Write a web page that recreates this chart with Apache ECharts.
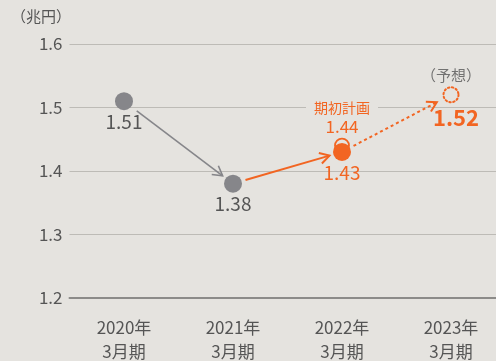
<!DOCTYPE html>
<html>
<head>
<meta charset="utf-8">
<script src="https://cdn.jsdelivr.net/npm/echarts@6/dist/echarts.min.js"></script>
<style>
  html, body { margin: 0; padding: 0; background: #e5e3df; }
  #chart { width: 496px; height: 361px; }
</style>
</head>
<body>
<div id="chart"></div>
<script>
// 売上高の推移（兆円）
const categories = ['2020年\n3月期', '2021年\n3月期', '2022年\n3月期', '2023年\n3月期'];
const actualPast = [1.51, 1.38];        // 2020年・2021年 実績
const actual2022 = 1.43;                // 2022年 実績
const plan2022 = 1.44;                  // 2022年 期初計画
const forecast2023 = 1.52;              // 2023年 予想
const yTicks = [1.2, 1.3, 1.4, 1.5, 1.6];

const GRAY = '#86868a';
const ORANGE = '#f26522';
const TEXT = '#555555';
const BG = '#e5e3df';
const FONT = '"Noto Sans CJK JP", "Noto Sans", sans-serif';

// 矢印: [x0, y0, x1, y1, 種別]
const arrows = [
  [0, actualPast[0], 1, actualPast[1], 'gray'],
  [1, actualPast[1], 2, actual2022, 'orange'],
  [2, actual2022, 3, forecast2023, 'dotted']
];

function renderArrow(params, api) {
  const p0 = api.coord([api.value(0), api.value(1)]);
  const p1 = api.coord([api.value(2), api.value(3)]);
  const kind = arrows[params.dataIndex][4];
  const dx = p1[0] - p0[0], dy = p1[1] - p0[1];
  const len = Math.sqrt(dx * dx + dy * dy);
  const ux = dx / len, uy = dy / len;
  const startGap = kind === 'gray' ? 16 : 13;
  const endGap = kind === 'dotted' ? 16 : 13;
  const s = [p0[0] + ux * startGap, p0[1] + uy * startGap];
  const e = [p1[0] - ux * endGap, p1[1] - uy * endGap];
  const color = kind === 'gray' ? GRAY : ORANGE;
  const lw = kind === 'gray' ? 1.6 : 2;
  const head = 11, ang = Math.PI / 6;
  const a = Math.atan2(uy, ux);
  const h1 = [e[0] - head * Math.cos(a - ang), e[1] - head * Math.sin(a - ang)];
  const h2 = [e[0] - head * Math.cos(a + ang), e[1] - head * Math.sin(a + ang)];
  return {
    type: 'group',
    children: [
      {
        type: 'line',
        shape: { x1: s[0], y1: s[1], x2: e[0], y2: e[1] },
        style: { stroke: color, lineWidth: lw, lineDash: kind === 'dotted' ? [3, 3] : null }
      },
      {
        type: 'polyline',
        shape: { points: [h1, e, h2] },
        style: { stroke: color, lineWidth: lw, fill: null }
      }
    ]
  };
}

const chart = echarts.init(document.getElementById('chart'));
chart.setOption({
  backgroundColor: BG,
  animation: false,
  textStyle: { fontFamily: FONT },
  grid: { left: 69.5, top: 44, width: 436, height: 254, outerBoundsMode: 'none', containLabel: false },
  graphic: [
    {
      type: 'text', left: 11, top: 9,
      style: { text: '（兆円）', fontSize: 15, fill: TEXT, fontFamily: FONT }
    }
  ],
  xAxis: {
    type: 'category',
    data: categories,
    boundaryGap: true,
    axisLine: { show: true, lineStyle: { color: '#8c8b89', width: 2 } },
    axisTick: { show: false },
    axisLabel: { color: TEXT, fontSize: 17, lineHeight: 24, margin: 18, fontFamily: FONT }
  },
  yAxis: {
    type: 'value',
    min: yTicks[0],
    max: yTicks[yTicks.length - 1],
    interval: 0.1,
    axisLine: { show: false },
    axisTick: { show: false },
    axisLabel: { color: TEXT, fontSize: 17, margin: 7, fontFamily: FONT, formatter: v => v.toFixed(1) },
    splitLine: { lineStyle: { color: '#bdbbb6', width: 1 } }
  },
  series: [
    {
      type: 'custom',
      renderItem: renderArrow,
      data: arrows.map(a => a.slice(0, 4)),
      z: 3,
      silent: true
    },
    {
      type: 'scatter',
      data: actualPast.map((v, i) => [i, v]),
      symbolSize: 18,
      itemStyle: { color: GRAY, opacity: 1 },
      label: {
        show: true, position: 'bottom', distance: 2,
        fontSize: 19, color: TEXT, fontFamily: FONT,
        formatter: p => p.value[1].toFixed(2)
      },
      z: 4
    },
    {
      type: 'scatter',
      data: [[2, plan2022]],
      symbolSize: 14,
      itemStyle: { color: BG, borderColor: ORANGE, borderWidth: 1.8, opacity: 1 },
      label: {
        show: true, position: 'top', distance: 1,
        formatter: p => '{a|期初計画}\n{b|' + p.value[1].toFixed(2) + '}',
        rich: {
          a: { fontSize: 14, color: ORANGE, backgroundColor: BG, padding: [0, 8], lineHeight: 18, fontFamily: FONT },
          b: { fontSize: 17, color: ORANGE, lineHeight: 20, fontFamily: FONT }
        }
      },
      z: 4
    },
    {
      type: 'scatter',
      data: [[2, actual2022]],
      symbolSize: 18,
      itemStyle: { color: ORANGE, opacity: 1 },
      label: {
        show: true, position: 'bottom', distance: 2,
        fontSize: 19, color: ORANGE, fontFamily: FONT,
        formatter: p => p.value[1].toFixed(2)
      },
      z: 5
    },
    {
      type: 'scatter',
      data: [[3, forecast2023]],
      symbolSize: 15,
      itemStyle: { color: 'rgba(0,0,0,0)', borderColor: ORANGE, borderWidth: 2, borderType: [1.5, 2.5], borderCap: 'round', opacity: 1 },
      label: {
        show: true, position: 'bottom', distance: 3, offset: [5, 0],
        fontSize: 22, fontWeight: 'bold', color: ORANGE, fontFamily: FONT,
        formatter: p => p.value[1].toFixed(2)
      },
      z: 4
    },
    {
      type: 'scatter',
      data: [[3, forecast2023]],
      symbolSize: 15,
      itemStyle: { color: 'rgba(0,0,0,0)' },
      label: {
        show: true, position: 'top', distance: 5, offset: [0, 0],
        fontSize: 15, color: TEXT, fontFamily: FONT,
        formatter: '（予想）'
      },
      z: 4,
      silent: true
    }
  ]
});
</script>
</body>
</html>
